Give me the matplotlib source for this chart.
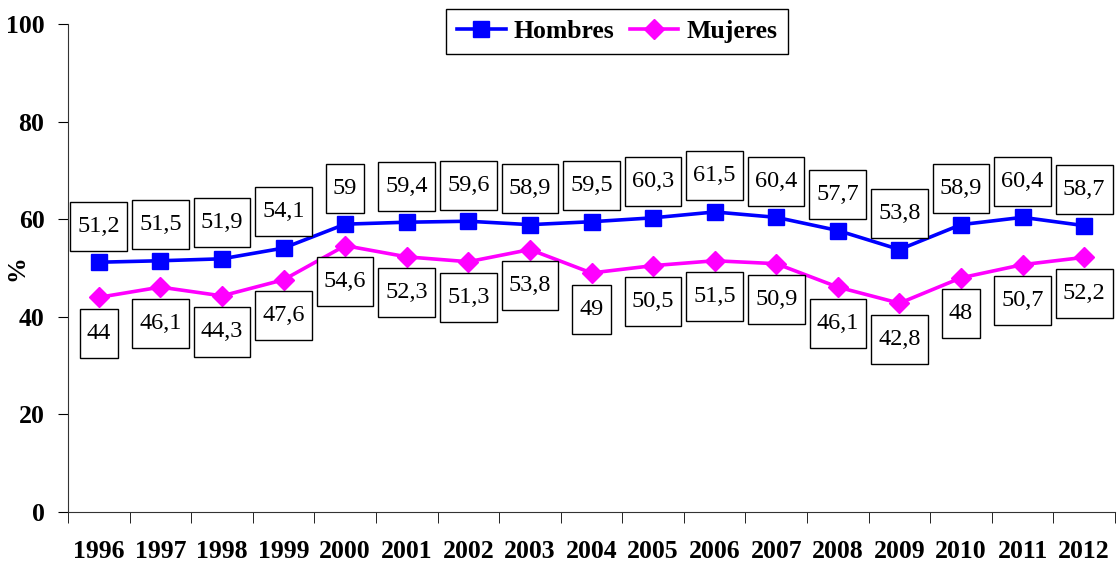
import numpy as np
import matplotlib
matplotlib.use('Agg')
import matplotlib.pyplot as plt
from matplotlib.offsetbox import TextArea, DrawingArea, VPacker, AnnotationBbox

plt.rcParams['font.family'] = ['Liberation Serif', 'DejaVu Serif']
plt.rcParams['font.size'] = 17

years = ['1996', '1997', '1998', '1999', '2000', '2001', '2002', '2003', '2004',
         '2005', '2006', '2007', '2008', '2009', '2010', '2011', '2012']
hombres = [51.2, 51.5, 51.9, 54.1, 59, 59.4, 59.6, 58.9, 59.5,
           60.3, 61.5, 60.4, 57.7, 53.8, 58.9, 60.4, 58.7]
mujeres = [44, 46.1, 44.3, 47.6, 54.6, 52.3, 51.3, 53.8, 49,
           50.5, 51.5, 50.9, 46.1, 42.8, 48, 50.7, 52.2]

fig = plt.figure(figsize=(11.19, 5.61), dpi=100)
ax = fig.add_axes([0.0608, 0.0873, 0.9356, 0.8697])

x = np.arange(len(years))
ax.plot(x, hombres, color='#0000FF', lw=2.6, marker='s', ms=11.5, label='Hombres', zorder=3)
ax.plot(x, mujeres, color='#FF00FF', lw=2.6, marker='D', ms=10.5, label='Mujeres', zorder=3)


def fmt(v):
    return ('%g' % v).replace('.', ',')


def label(xi, yi, dy):
    txt = TextArea(fmt(yi), textprops=dict(fontsize=17.5))
    box = VPacker(children=[DrawingArea(0, 5), txt, DrawingArea(0, 5)],
                  align='center', pad=0, sep=0)
    ab = AnnotationBbox(box, (xi, yi), xybox=(0, dy), boxcoords='offset points',
                        pad=0.15, frameon=True,
                        bboxprops=dict(boxstyle='square', ec='black', fc='white', lw=1))
    ax.add_artist(ab)


for xi, v in zip(x, hombres):
    label(xi, v, 26)
for xi, v in zip(x, mujeres):
    label(xi, v, -26)

ax.set_xlim(-0.5, len(years) - 0.5)
ax.set_ylim(0, 100)
ax.set_yticks(np.arange(0, 101, 20))
ax.set_xticks(x)
ax.set_xticklabels(years)
ax.set_xticks(np.arange(-0.5, len(years)), minor=True)
ax.tick_params(axis='x', which='major', length=0, pad=20, labelsize=18.5)
ax.tick_params(axis='x', which='minor', length=8, direction='out')
ax.tick_params(axis='y', length=7, direction='out', labelsize=18.5, pad=10)
for lab in ax.get_xticklabels() + ax.get_yticklabels():
    lab.set_fontweight('bold')

ax.spines['top'].set_visible(False)
ax.spines['right'].set_visible(False)
ax.spines['left'].set_color('#333333')
ax.spines['bottom'].set_color('#333333')
ax.set_ylabel('%', fontsize=18.5, fontweight='bold')
ax.yaxis.set_label_coords(-0.038, 0.5)

fig.legend(loc='upper center', bbox_to_anchor=(617 / 1119, 1 - 9 / 561), ncol=2,
           prop=dict(weight='bold', size=18.5), frameon=True, fancybox=False,
           edgecolor='black', framealpha=1, handlelength=1.9, columnspacing=0.6,
           handletextpad=0.3, borderpad=0.42, borderaxespad=0)

fig.savefig('out.png', dpi=100)
